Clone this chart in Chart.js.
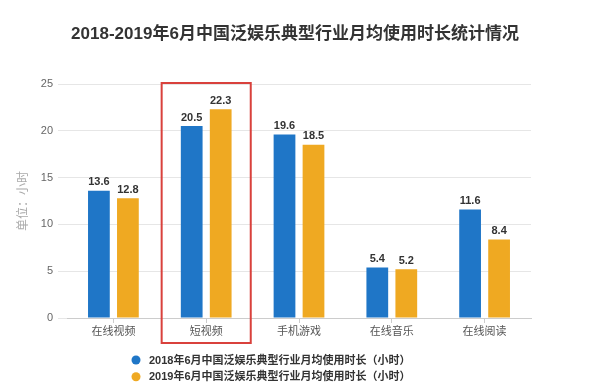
<!DOCTYPE html>
<html>
<head>
<meta charset="utf-8">
<script src="https://cdn.jsdelivr.net/npm/chart.js@4/dist/chart.umd.min.js"></script>
<style>
  html, body { margin: 0; padding: 0; background: #ffffff; }
  #wrap { width: 600px; height: 391px; position: relative; }
</style>
</head>
<body>
<div id="wrap"><canvas id="c" width="600" height="391"></canvas></div>
<script>
const chartTitle = '2018-2019年6月中国泛娱乐典型行业月均使用时长统计情况';
const categories = ['在线视频', '短视频', '手机游戏', '在线音乐', '在线阅读'];
const series2018Label = '2018年6月中国泛娱乐典型行业月均使用时长（小时）';
const series2019Label = '2019年6月中国泛娱乐典型行业月均使用时长（小时）';
const series2018 = [13.6, 20.5, 19.6, 5.4, 11.6];
const series2019 = [12.8, 22.3, 18.5, 5.2, 8.4];
const yAxisTitle = '单位：小时';
const yMin = 0, yMax = 25, yStep = 5;
const highlightCategory = '短视频';

const FONT = '"Liberation Sans", "Noto Sans CJK SC", sans-serif';
Chart.defaults.font.family = FONT;

const valueLabels = {
  id: 'valueLabels',
  afterDatasetsDraw(chart) {
    const ctx = chart.ctx;
    ctx.save();
    ctx.font = 'bold 11px ' + FONT;
    ctx.fillStyle = '#333333';
    ctx.textAlign = 'center';
    ctx.textBaseline = 'bottom';
    chart.data.datasets.forEach((ds, di) => {
      const meta = chart.getDatasetMeta(di);
      meta.data.forEach((bar, i) => {
        ctx.fillText(ds.data[i].toFixed(1), bar.x, bar.y - 3);
      });
    });
    ctx.restore();
  }
};

const highlightBox = {
  id: 'highlightBox',
  afterDraw(chart) {
    const xs = chart.scales.x;
    const idx = categories.indexOf(highlightCategory);
    if (idx < 0) return;
    const cx = xs.getPixelForValue(idx);
    const step = xs.getPixelForValue(1) - xs.getPixelForValue(0);
    const half = step * 0.48;
    const top = chart.chartArea.top - 1;
    const bottom = chart.chartArea.bottom + 25;
    const ctx = chart.ctx;
    ctx.save();
    ctx.strokeStyle = '#d9413c';
    ctx.lineWidth = 2;
    ctx.strokeRect(cx - half, top, half * 2, bottom - top);
    ctx.restore();
  }
};

const centeredTitle = {
  id: 'centeredTitle',
  afterDraw(chart) {
    const ctx = chart.ctx;
    const ca = chart.chartArea;
    ctx.save();
    ctx.font = 'bold 17px ' + FONT;
    ctx.fillStyle = '#333333';
    ctx.textAlign = 'center';
    ctx.textBaseline = 'middle';
    ctx.fillText(chartTitle, (ca.left + ca.right) / 2 - 4, 34);
    ctx.restore();
  }
};

const customLegend = {
  id: 'customLegend',
  afterDraw(chart) {
    const ctx = chart.ctx;
    ctx.save();
    ctx.font = 'bold 11px ' + FONT;
    ctx.textBaseline = 'middle';
    ctx.textAlign = 'left';
    chart.data.datasets.forEach((ds, i) => {
      const y = 360 + i * 16.8;
      ctx.beginPath();
      ctx.fillStyle = ds.backgroundColor;
      ctx.arc(136, y, 4.5, 0, Math.PI * 2);
      ctx.fill();
      ctx.fillStyle = '#333333';
      ctx.fillText(ds.label, 149, y + 0.5);
    });
    ctx.restore();
  }
};

new Chart(document.getElementById('c'), {
  type: 'bar',
  data: {
    labels: categories,
    datasets: [
      { label: series2018Label, data: series2018, backgroundColor: '#1f76c7',
        categoryPercentage: 0.625, barPercentage: 0.75 },
      { label: series2019Label, data: series2019, backgroundColor: '#efa922',
        categoryPercentage: 0.625, barPercentage: 0.75 }
    ]
  },
  options: {
    responsive: false,
    devicePixelRatio: 1,
    animation: false,
    layout: { padding: { left: 0, right: 69, top: 84, bottom: 43 } },
    plugins: {
      legend: { display: false },
      tooltip: { enabled: false },
      title: { display: false }
    },
    scales: {
      x: {
        grid: { display: true, drawOnChartArea: false, drawTicks: true, tickLength: 5, offset: false, color: '#cccccc' },
        border: { display: true, color: '#cccccc' },
        ticks: { color: '#555555', font: { size: 11 }, padding: 2, maxRotation: 0 },
        afterFit(scale) { scale.height = 30; }
      },
      y: {
        min: yMin, max: yMax,
        ticks: { stepSize: yStep, color: '#666666', font: { size: 11 }, padding: 5 },
        grid: { color: '#e6e6e6', drawTicks: true, tickLength: 9 },
        border: { display: false },
        title: { display: true, text: yAxisTitle, color: '#aaaaaa', font: { size: 12 }, padding: { top: 16, bottom: 0 } },
        afterFit(scale) { scale.width = 67; }
      }
    }
  },
  plugins: [valueLabels, highlightBox, centeredTitle, customLegend]
});
</script>
</body>
</html>
